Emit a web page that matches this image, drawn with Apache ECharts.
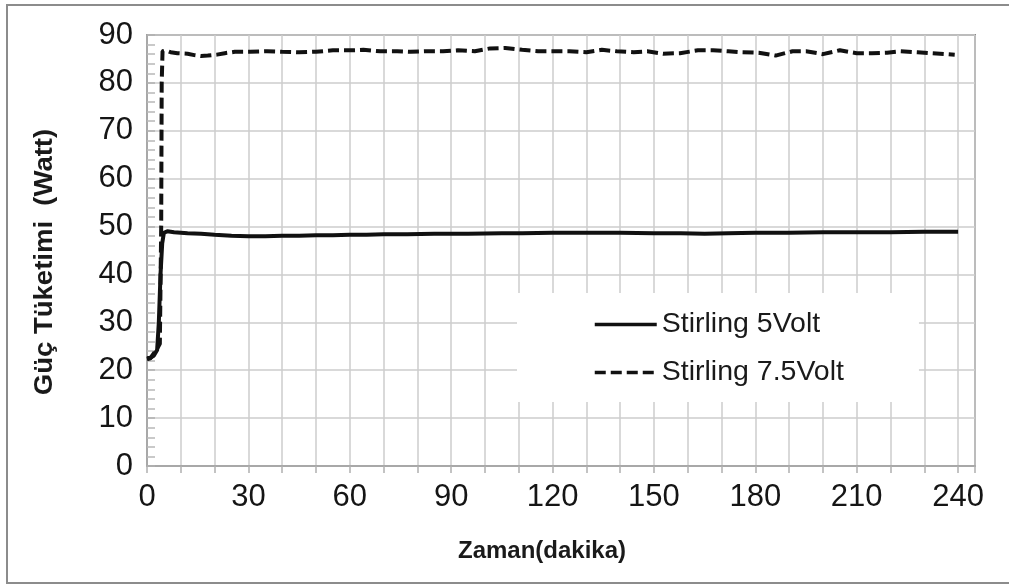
<!DOCTYPE html>
<html>
<head>
<meta charset="utf-8">
<script src="https://cdn.jsdelivr.net/npm/echarts@6/dist/echarts.min.js"></script>
<style>html,body{margin:0;padding:0;background:#fff;}#c{width:1009px;height:585px;}</style>
</head>
<body>
<div id="c"></div>
<script>
// Time (minutes) and power (Watt) readings
const t5 = [0,1,2,3,3.5,4,4.5,5,6,8,12,16,20,25,30,35,40,45,50,55,60,65,70,77,85,95,105,111,120,130,140,150,158,165,172,180,190,200,210,220,230,240];
const v5 = [22.5,22.6,23.0,24.2,30,40,46.5,48.7,49.0,48.8,48.6,48.5,48.3,48.1,48.0,48.0,48.1,48.1,48.2,48.2,48.3,48.3,48.4,48.4,48.5,48.5,48.6,48.6,48.7,48.7,48.7,48.6,48.6,48.5,48.6,48.7,48.7,48.8,48.8,48.8,48.9,48.9];
const t75 = [0,1,2,3,3.8,4.2,4.35,4.6,5.5,7,9,12,14,16,18,20.7,23,26,30.5,35.5,40,45,50,55,60,64,69,74,78,82,87.6,92,97,101.5,106,111,115.7,120.7,125,130,134.6,139,144,148,152.7,157.7,163,167.5,172,176,181,186,191,195,200,205,210,214.5,219,223,228,232,237,239];
const v75 = [22.3,22.5,23.5,24.5,25.5,50,80,86.6,86.8,86.4,86.2,86.1,85.8,85.6,85.7,85.9,86.2,86.5,86.5,86.6,86.5,86.4,86.5,86.8,86.8,86.9,86.6,86.6,86.5,86.6,86.6,86.8,86.6,87.2,87.3,86.9,86.6,86.6,86.6,86.4,86.9,86.6,86.4,86.6,86.1,86.2,86.8,86.8,86.6,86.4,86.3,85.7,86.6,86.6,86.0,86.8,86.2,86.2,86.3,86.6,86.4,86.2,86.0,85.9];
const seriesNames = ['Stirling 5Volt','Stirling 7.5Volt'];
const xTitle = 'Zaman(dakika)';
const yTitle = 'Güç Tüketimi  (Watt)';

const d5 = t5.map((t,i)=>[t,v5[i]]);
const d75 = t75.map((t,i)=>[t,v75[i]]);
const FONT = 'Liberation Sans, Arial, sans-serif';

const chart = echarts.init(document.getElementById('c'), null, {renderer:'canvas'});
chart.setOption({
  animation:false,
  backgroundColor:'#fff',
  grid:{left:147,right:34,top:35,bottom:119,show:true,borderColor:'#8a8a8a',borderWidth:2,backgroundColor:'transparent'},
  xAxis:{
    type:'value',min:0,max:245,interval:10,
    axisLine:{show:true,onZero:false,lineStyle:{color:'#a8a8a8',width:2}},
    axisTick:{show:true,length:7,lineStyle:{color:'#b0b0b0',width:1.5}},
    splitLine:{show:true,lineStyle:{color:'#cdcdcd',width:1.5}},
    axisLabel:{margin:16,fontSize:31,fontFamily:FONT,color:'#151515',
      formatter:v=> (v%30===0 ? String(v) : '')}
  },
  yAxis:{
    type:'value',min:0,max:90,interval:10,
    axisLine:{show:true,lineStyle:{color:'#a8a8a8',width:2}},
    axisTick:{show:true,inside:true,length:8,lineStyle:{color:'#b0b0b0',width:1.5}},
    minorTick:{show:true,splitNumber:5,length:8,lineStyle:{color:'#b8b8b8',width:1.5}},
    splitLine:{show:true,lineStyle:{color:'#cdcdcd',width:1.5}},
    axisLabel:{margin:14,fontSize:31,fontFamily:FONT,color:'#151515'}
  },
  legend:{
    left:517,top:293,orient:'vertical',
    backgroundColor:'#ffffff',
    padding:[17,75,15,76],
    itemGap:19,itemWidth:62,itemHeight:26,
    itemStyle:{opacity:0},
    lineStyle:{width:3.5},
    textStyle:{fontSize:28.5,fontFamily:FONT,color:'#1a1a1a'},
    data:seriesNames
  },
  series:[
    {name:seriesNames[0],type:'line',data:d5,symbol:'none',smooth:false,
     lineStyle:{color:'#111',width:4},itemStyle:{color:'#111'},z:3},
    {name:seriesNames[1],type:'line',data:d75,symbol:'none',smooth:false,
     lineStyle:{color:'#111',width:4,type:[11,5]},itemStyle:{color:'#111'},z:4}
  ],
  graphic:[
    {type:'rect',silent:true,z:-1,shape:{x:7,y:5,width:1010,height:578},style:{fill:'none',stroke:'#8c8c8c',lineWidth:2}},
    {type:'text',x:542,y:551,style:{text:xTitle,font:'bold 24px '+FONT,fill:'#1a1a1a',align:'center',verticalAlign:'middle'}},
    {type:'text',x:45,y:262,rotation:Math.PI/2,scaleX:1.1,style:{text:yTitle,font:'bold 25px '+FONT,fill:'#1a1a1a',align:'center',verticalAlign:'middle'}}
  ]
});
</script>
</body>
</html>
